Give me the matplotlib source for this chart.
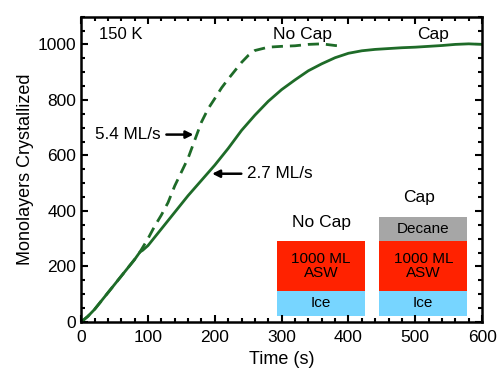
import matplotlib
matplotlib.use("Agg")
from matplotlib import pyplot as plt
from matplotlib.patches import Rectangle
from matplotlib.ticker import MultipleLocator

plt.rcParams['font.family'] = ['Liberation Sans', 'DejaVu Sans']

# capped film (solid)
t_cap = [0, 10, 20, 30, 40, 50, 60, 70, 80, 88, 92, 100, 120, 140, 160, 180, 200, 220, 240,
         260, 280, 300, 320, 340, 360, 380, 400, 420, 440, 460, 480, 500, 520, 540, 560,
         580, 600]
ml_cap = [0, 20, 45, 75, 105, 135, 165, 195, 225, 252, 258, 275, 335, 395, 455, 510, 565,
          625, 690, 745, 795, 837, 872, 905, 930, 952, 968, 977, 982, 985, 988, 990, 993,
          996, 1000, 1002, 1000]

# uncapped film (dashed)
t_nocap = [0, 10, 20, 30, 40, 50, 60, 70, 80, 88, 100, 110, 120, 130, 140, 150, 160, 170,
           180, 190, 200, 210, 220, 230, 240, 250, 260, 280, 300, 320, 340, 360, 380, 393]
ml_nocap = [0, 20, 45, 75, 105, 135, 165, 195, 225, 252, 300, 345, 385, 430, 490, 540, 590,
            655, 720, 768, 805, 843, 875, 905, 935, 960, 978, 990, 993, 995, 1000, 1002, 996,
            993]

green = '#1e6b28'

fig, ax = plt.subplots(figsize=(4.98, 3.70), dpi=100)
fig.subplots_adjust(left=0.163, right=0.968, top=0.955, bottom=0.13)

ax.plot(t_cap, ml_cap, color=green, lw=2)
ax.plot(t_nocap, ml_nocap, color=green, lw=2, ls=(0, (4, 2.5)))

ax.set_xlim(0, 600)
ax.set_ylim(0, 1100)
ax.xaxis.set_major_locator(MultipleLocator(100))
ax.xaxis.set_minor_locator(MultipleLocator(20))
ax.yaxis.set_major_locator(MultipleLocator(200))
ax.yaxis.set_minor_locator(MultipleLocator(50))
ax.tick_params(which='both', direction='in', top=True, right=True, width=1.5, labelsize=12.5)
ax.tick_params(which='major', length=5)
ax.tick_params(which='minor', length=3)
ax.tick_params(axis='x', pad=6)
for s in ax.spines.values():
    s.set_linewidth(1.8)

ax.set_xlabel('Time (s)', fontsize=13, labelpad=4)
ax.set_ylabel('Monolayers Crystallized', fontsize=13, labelpad=3)

ax.text(26, 1036, '150 K', fontsize=12, va='center')
ax.text(331, 1036, 'No Cap', fontsize=12.5, va='center', ha='center')
ax.text(527, 1036, 'Cap', fontsize=12.5, va='center', ha='center')

ax.annotate('5.4 ML/s', xy=(168, 675), xytext=(21, 675), fontsize=12.3, va='center',
            arrowprops=dict(arrowstyle='-|>', color='black', lw=1.8, mutation_scale=11,
                            shrinkA=2, shrinkB=0))
ax.annotate('2.7 ML/s', xy=(196, 534), xytext=(248, 534), fontsize=12.3, va='center',
            arrowprops=dict(arrowstyle='-|>', color='black', lw=1.8, mutation_scale=11,
                            shrinkA=2, shrinkB=0))

# layer stacks
red = '#ff2200'
blue = '#77d5ff'
grey = '#a6a6a6'
for x0, cap in [(293, False), (446, True)]:
    w = 132
    ax.add_patch(Rectangle((x0, 23), w, 89, color=blue, lw=0))
    ax.add_patch(Rectangle((x0, 112), w, 178, color=red, lw=0))
    ax.text(x0 + w / 2, 67, 'Ice', fontsize=11, ha='center', va='center')
    ax.text(x0 + w / 2, 201, '1000 ML\nASW', fontsize=11, ha='center', va='center',
            linespacing=1.0)
    if cap:
        ax.add_patch(Rectangle((x0, 290), w, 89, color=grey, lw=0))
        ax.text(x0 + w / 2, 335, 'Decane', fontsize=11, ha='center', va='center')
        ax.text(x0 + w / 2 - 6, 447, 'Cap', fontsize=12.5, ha='center', va='center')
    else:
        ax.text(x0 + w / 2 + 1, 357, 'No Cap', fontsize=12.5, ha='center', va='center')

fig.savefig('out.png', dpi=100)
